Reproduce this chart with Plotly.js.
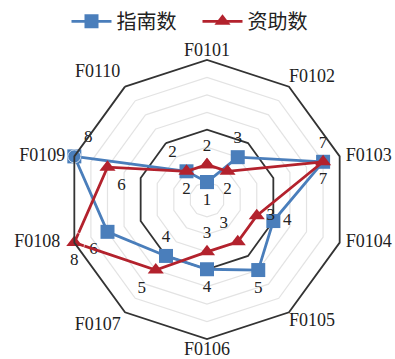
<!DOCTYPE html>
<html>
<head>
<meta charset="utf-8">
<script src="https://cdn.plot.ly/plotly-3.0.1.min.js"></script>
<style>
  html, body { margin: 0; padding: 0; background: #fff; }
  #chart { width: 395px; height: 359px; }
</style>
</head>
<body>
<div id="chart"></div>
<script>
// Subject codes around the radar
const categories = ['F0101', 'F0102', 'F0103', 'F0104', 'F0105',
                    'F0106', 'F0107', 'F0108', 'F0109', 'F0110'];

// Number of guideline items per code
const guideCounts = [1, 3, 7, 4, 5, 4, 4, 6, 8, 2];
// Number of funded projects per code
const fundedCounts = [2, 2, 7, 3, 3, 3, 5, 8, 6, 2];

const seriesNames = ['指南数', '资助数'];

// Where each value label sits relative to its marker
const guideLabelPos = ['bottom center', 'top center', 'top center', 'middle right', 'bottom center',
                       'bottom center', 'top center', 'bottom left', 'top right', 'top left'];
const fundedLabelPos = ['top center', 'bottom center', 'bottom center', 'middle right', 'top left',
                        'top center', 'bottom left', 'bottom center', 'bottom right', 'bottom center'];
// Category names sit just outside the outer ring
const categoryLabelPos = ['top center', 'top right', 'middle right', 'middle right', 'bottom right',
                          'bottom center', 'bottom left', 'middle left', 'middle left', 'top left'];
// Clearance between each category name and the ring corner (invisible anchor size)
const categoryLabelGap = [0, 0, 8, 8, 0, 2, 5, 21, 13, 6];

const R_MAX = 8;
const closeLoop = a => a.concat([a[0]]);

const BLUE = '#4a7ebb';
const RED = '#b3222d';
const serif = 'Liberation Serif, Times New Roman, serif';

const valueText = vals => closeLoop(vals.map(String)).map((t, i) => i < vals.length ? t : '');

const traces = [
  // carries the category axis of the light grid layer
  {
    type: 'scatterpolar', subplot: 'polar',
    r: guideCounts, theta: categories,
    mode: 'lines', line: {width: 0}, opacity: 0,
    showlegend: false, hoverinfo: 'skip'
  },
  {
    type: 'scatterpolar', subplot: 'polar2', name: seriesNames[0],
    r: closeLoop(guideCounts), theta: closeLoop(categories),
    mode: 'lines+markers+text',
    text: valueText(guideCounts),
    textposition: closeLoop(guideLabelPos),
    textfont: {family: serif, size: 17, color: '#222'},
    line: {color: BLUE, width: 2.8},
    marker: {symbol: 'square', size: 14, color: BLUE},
    cliponaxis: false
  },
  {
    type: 'scatterpolar', subplot: 'polar2', name: seriesNames[1],
    r: closeLoop(fundedCounts), theta: closeLoop(categories),
    mode: 'lines+markers+text',
    text: valueText(fundedCounts),
    textposition: closeLoop(fundedLabelPos),
    textfont: {family: serif, size: 17, color: '#222'},
    line: {color: RED, width: 2.8},
    marker: {symbol: 'triangle-up', size: 14, color: RED},
    cliponaxis: false
  },
  // category names at the outer ring
  {
    type: 'scatterpolar', subplot: 'polar2',
    r: categories.map(() => R_MAX), theta: categories,
    mode: 'markers+text', text: categories, textposition: categoryLabelPos,
    marker: {size: categoryLabelGap, color: 'rgba(0,0,0,0)'},
    textfont: {family: serif, size: 18, color: '#222'},
    showlegend: false, hoverinfo: 'skip', cliponaxis: false
  }
];

const domain = {x: [67.5 / 395, 346.5 / 395], y: [1 - 339 / 359, 1 - 60 / 359]};

const layout = {
  width: 395, height: 359,
  margin: {l: 0, r: 0, t: 0, b: 0},
  paper_bgcolor: '#fff',
  showlegend: true,
  legend: {
    orientation: 'h', x: 0.5, xanchor: 'center', y: 0.995, yanchor: 'top',
    font: {family: 'Noto Sans CJK SC', size: 20, color: '#222'},
    itemwidth: 40, entrywidth: 76, entrywidthmode: 'pixels', traceorder: 'normal'
  },
  polar: {
    domain: domain,
    bgcolor: '#fff',
    gridshape: 'linear',
    radialaxis: {
      range: [0, R_MAX], tickvals: [1, 2, 3, 5, 6, 7],
      showticklabels: false, ticks: '', showline: false,
      gridcolor: '#e3e3e3', gridwidth: 1.2
    },
    angularaxis: {
      rotation: 90, direction: 'clockwise',
      showgrid: false, showline: false, showticklabels: false, ticks: ''
    }
  },
  polar2: {
    domain: domain,
    bgcolor: 'rgba(0,0,0,0)',
    gridshape: 'linear',
    radialaxis: {
      range: [0, R_MAX], tickvals: [4],
      showticklabels: false, ticks: '', showline: false,
      gridcolor: '#333', gridwidth: 1.8
    },
    angularaxis: {
      rotation: 90, direction: 'clockwise',
      showgrid: false, showline: true, linecolor: '#333', linewidth: 1.8,
      ticks: '', showticklabels: false
    }
  }
};

Plotly.newPlot('chart', traces, layout, {displayModeBar: false, staticPlot: true});
</script>
</body>
</html>
